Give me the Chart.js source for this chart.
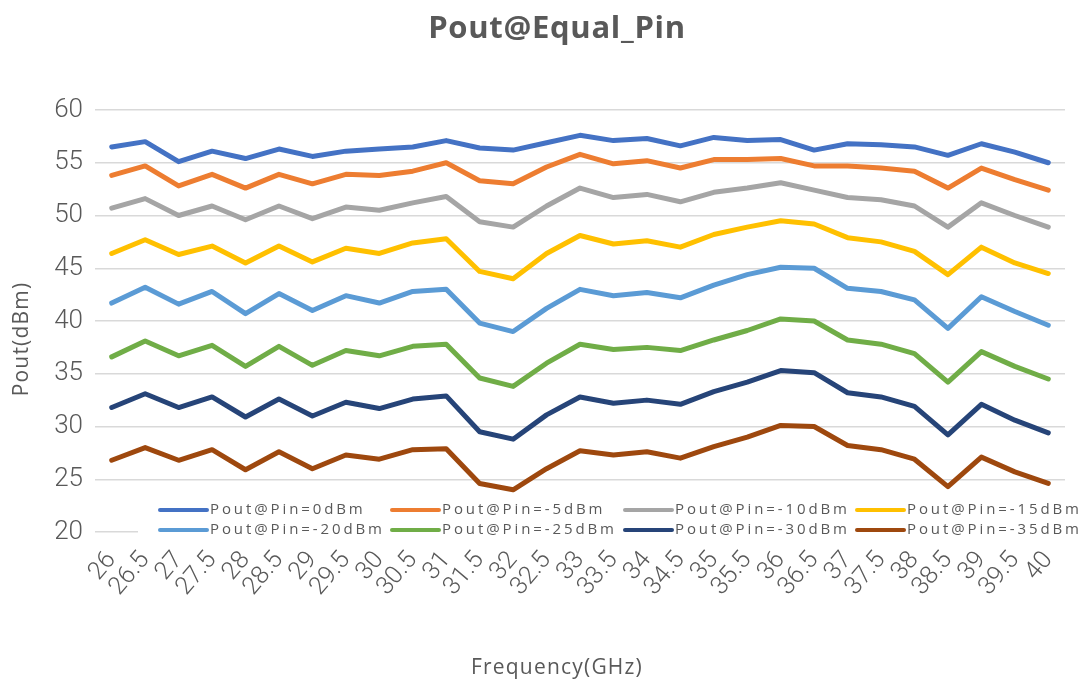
<!DOCTYPE html>
<html>
<head>
<meta charset="utf-8">
<script src="https://cdn.jsdelivr.net/npm/chart.js@4/dist/chart.umd.min.js"></script>
<style>
  html, body { margin: 0; padding: 0; background: #ffffff; }
  #wrap { width: 1089px; height: 686px; position: relative; }
</style>
</head>
<body>
<div id="wrap"><canvas id="c" width="1089" height="686"></canvas></div>
<script>
const chartTitle = 'Pout@Equal_Pin';
const xTitle = 'Frequency(GHz)';
const yTitle = 'Pout(dBm)';
const frequencies = ['26','26.5','27','27.5','28','28.5','29','29.5','30','30.5','31','31.5','32','32.5','33','33.5','34','34.5','35','35.5','36','36.5','37','37.5','38','38.5','39','39.5','40'];
const seriesNames = ['Pout@Pin=0dBm','Pout@Pin=-5dBm','Pout@Pin=-10dBm','Pout@Pin=-15dBm','Pout@Pin=-20dBm','Pout@Pin=-25dBm','Pout@Pin=-30dBm','Pout@Pin=-35dBm'];
const pin0   = [56.5,57.0,55.1,56.1,55.4,56.3,55.6,56.1,56.3,56.5,57.1,56.4,56.2,56.9,57.6,57.1,57.3,56.6,57.4,57.1,57.2,56.2,56.8,56.7,56.5,55.7,56.8,56.0,55.0];
const pinM5  = [53.8,54.7,52.8,53.9,52.6,53.9,53.0,53.9,53.8,54.2,55.0,53.3,53.0,54.6,55.8,54.9,55.2,54.5,55.3,55.3,55.4,54.7,54.7,54.5,54.2,52.6,54.5,53.4,52.4];
const pinM10 = [50.7,51.6,50.0,50.9,49.6,50.9,49.7,50.8,50.5,51.2,51.8,49.4,48.9,50.9,52.6,51.7,52.0,51.3,52.2,52.6,53.1,52.4,51.7,51.5,50.9,48.9,51.2,50.0,48.9];
const pinM15 = [46.4,47.7,46.3,47.1,45.5,47.1,45.6,46.9,46.4,47.4,47.8,44.7,44.0,46.4,48.1,47.3,47.6,47.0,48.2,48.9,49.5,49.2,47.9,47.5,46.6,44.4,47.0,45.5,44.5];
const pinM20 = [41.7,43.2,41.6,42.8,40.7,42.6,41.0,42.4,41.7,42.8,43.0,39.8,39.0,41.2,43.0,42.4,42.7,42.2,43.4,44.4,45.1,45.0,43.1,42.8,42.0,39.3,42.3,40.9,39.6];
const pinM25 = [36.6,38.1,36.7,37.7,35.7,37.6,35.8,37.2,36.7,37.6,37.8,34.6,33.8,36.0,37.8,37.3,37.5,37.2,38.2,39.1,40.2,40.0,38.2,37.8,36.9,34.2,37.1,35.7,34.5];
const pinM30 = [31.8,33.1,31.8,32.8,30.9,32.6,31.0,32.3,31.7,32.6,32.9,29.5,28.8,31.1,32.8,32.2,32.5,32.1,33.3,34.2,35.3,35.1,33.2,32.8,31.9,29.2,32.1,30.6,29.4];
const pinM35 = [26.8,28.0,26.8,27.8,25.9,27.6,26.0,27.3,26.9,27.8,27.9,24.6,24.0,26.0,27.7,27.3,27.6,27.0,28.1,29.0,30.1,30.0,28.2,27.8,26.9,24.3,27.1,25.7,24.6];
const seriesValues = [pin0, pinM5, pinM10, pinM15, pinM20, pinM25, pinM30, pinM35];
const colors = ['#4472C4','#ED7D31','#A5A5A5','#FFC000','#5B9BD5','#70AD47','#264478','#9E480E'];

const TEXT = '#595959';

function setSpacing(ctx, v) { try { ctx.letterSpacing = v; } catch (e) {} }

const titlesPlugin = {
  id: 'titles',
  afterDraw(chart) {
    const ctx = chart.ctx;
    ctx.save();
    ctx.fillStyle = TEXT;
    ctx.textAlign = 'center';
    // main title
    ctx.font = 'bold 31px "Open Sans", sans-serif';
    setSpacing(ctx, '0.7px');
    ctx.textBaseline = 'alphabetic';
    ctx.fillText(chartTitle, 557, 38);
    // x title
    ctx.font = '21px "Open Sans", sans-serif';
    setSpacing(ctx, '1.2px');
    ctx.textBaseline = 'middle';
    ctx.fillText(xTitle, 557, 668);
    // y title
    ctx.translate(22, 339);
    ctx.rotate(-Math.PI / 2);
    ctx.font = '21px "Open Sans", sans-serif';
    setSpacing(ctx, '1.2px');
    ctx.fillText(yTitle, 0, 0);
    ctx.restore();
  }
};

const legendPlugin = {
  id: 'insideLegend',
  afterDatasetsDraw(chart) {
    const ctx = chart.ctx;
    ctx.save();
    ctx.fillStyle = '#ffffff';
    ctx.fillRect(138, 499, chart.width - 138, 43);
    const colX = [160, 392, 625, 857];
    const rowY = [510, 530];
    ctx.font = '15px "Open Sans", sans-serif';
    ctx.textBaseline = 'middle';
    ctx.textAlign = 'left';
    setSpacing(ctx, '2.9px');
    chart.data.datasets.forEach((ds, i) => {
      const x = colX[i % 4];
      const y = rowY[Math.floor(i / 4)];
      ctx.strokeStyle = ds.borderColor;
      ctx.lineWidth = 4;
      ctx.lineCap = 'round';
      ctx.beginPath();
      ctx.moveTo(x, y);
      ctx.lineTo(x + 47, y);
      ctx.stroke();
      ctx.fillStyle = TEXT;
      ctx.fillText(ds.label, x + 50, y);
    });
    ctx.restore();
  }
};

new Chart(document.getElementById('c'), {
  type: 'line',
  data: {
    labels: frequencies,
    datasets: seriesValues.map((vals, i) => ({
      label: seriesNames[i],
      data: vals,
      borderColor: colors[i],
      backgroundColor: colors[i],
      borderWidth: 5,
      pointRadius: 0,
      tension: 0,
      borderCapStyle: 'round',
      borderJoinStyle: 'round',
      fill: false
    }))
  },
  options: {
    responsive: false,
    animation: false,
    layout: { padding: { left: 0, right: 24, top: 110, bottom: 0 } },
    plugins: {
      legend: { display: false },
      tooltip: { enabled: false },
      title: { display: false }
    },
    scales: {
      x: {
        offset: true,
        grid: { display: false, drawTicks: false },
        border: { display: false },
        ticks: {
          autoSkip: false,
          minRotation: 50,
          maxRotation: 50,
          color: TEXT,
          padding: 14,
          font: { family: 'Roboto, sans-serif', size: 25, weight: 300 }
        },
        title: { display: false },
        afterFit(scale) { scale.height = 154; }
      },
      y: {
        min: 20,
        max: 60,
        grid: { color: '#D9D9D9', lineWidth: 1.5, drawTicks: false },
        border: { display: false },
        ticks: {
          stepSize: 5,
          color: TEXT,
          padding: 12,
          font: { family: 'Roboto, sans-serif', size: 26, weight: 300 }
        },
        title: { display: false },
        afterFit(scale) { scale.width = 95; }
      }
    }
  },
  plugins: [legendPlugin, titlesPlugin]
});
</script>
</body>
</html>
